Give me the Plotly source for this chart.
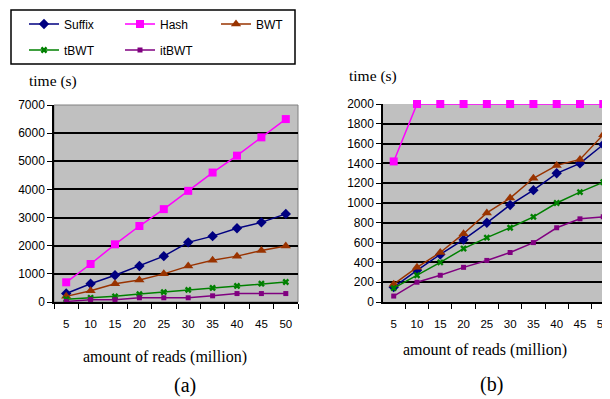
import plotly.graph_objects as go

categories = ["5", "10", "15", "20", "25", "30", "35", "40", "45", "50"]
series_names = ["Suffix", "Hash", "BWT", "tBWT", "itBWT"]

# (a)
a_suffix = [300, 650, 950, 1280, 1630, 2120, 2340, 2620, 2830, 3130]
a_hash = [700, 1350, 2050, 2700, 3300, 3950, 4600, 5200, 5850, 6500]
a_bwt = [200, 400, 650, 780, 1000, 1275, 1480, 1630, 1830, 1990]
a_tbwt = [100, 150, 200, 280, 350, 430, 500, 570, 650, 710]
a_itbwt = [20, 80, 80, 150, 150, 150, 220, 300, 300, 300]

# (b)
b_suffix = [150, 320, 480, 630, 800, 980, 1130, 1300, 1400, 1590]
b_hash = [1420, 2000, 2000, 2000, 2000, 2000, 2000, 2000, 2000, 2000]
b_bwt = [180, 350, 500, 690, 900, 1050, 1250, 1380, 1440, 1690]
b_tbwt = [140, 270, 400, 540, 650, 750, 860, 1000, 1110, 1210]
b_itbwt = [60, 200, 270, 350, 420, 500, 600, 750, 840, 860]

colors = ["#000080", "#FF00FF", "#993300", "#008000", "#800080"]
symbols = ["diamond", "square", "triangle-up", "x", "square"]
msizes = [8, 8, 9, 6, 5]
legend_ids = ["legend", "legend", "legend", "legend2", "legend2"]

fig = go.Figure()
for i, (name, ys) in enumerate(zip(series_names, [a_suffix, a_hash, a_bwt, a_tbwt, a_itbwt])):
    fig.add_trace(go.Scatter(x=categories, y=ys, name=name, mode="lines+markers",
                             line=dict(color=colors[i], width=1.5),
                             marker=dict(symbol=symbols[i], size=msizes[i], color=colors[i]),
                             xaxis="x", yaxis="y", cliponaxis=False, legend=legend_ids[i]))
for i, (name, ys) in enumerate(zip(series_names, [b_suffix, b_hash, b_bwt, b_tbwt, b_itbwt])):
    fig.add_trace(go.Scatter(x=categories, y=ys, name=name, mode="lines+markers",
                             line=dict(color=colors[i], width=1.5),
                             marker=dict(symbol=symbols[i], size=msizes[i], color=colors[i]),
                             xaxis="x2", yaxis="y2", showlegend=False, cliponaxis=False))

# page has an 8px body margin; figure is sized to fill the rest of the window
OFF = 8
W, H = 610 - OFF, 399 - OFF
def px_x(p):
    return (p - OFF) / W
def px_y(p):
    return (H - (p - OFF)) / H

sans = "Arial"
serif = "Liberation Serif"
common_x = dict(type="category", tickson="boundaries", ticks="outside", ticklen=5,
                tickcolor="black", showline=True, linecolor="black", linewidth=1.5,
                showgrid=False, tickfont=dict(family=sans, size=11.5, color="black"),
                zeroline=False, ticklabeloverflow="allow", ticklabelstandoff=10)
common_y = dict(ticks="outside", ticklen=5, tickcolor="black", showline=True,
                linecolor="black", linewidth=1.5, showgrid=True, gridcolor="black",
                gridwidth=1.5, tickfont=dict(family=sans, size=12, color="black"),
                zeroline=False)

legfont = dict(family=sans, size=12, color="black")
fig.update_layout(
    width=W, height=H,
    margin=dict(l=0, r=0, t=0, b=0, autoexpand=False),
    paper_bgcolor="white",
    plot_bgcolor="#C0C0C0",
    showlegend=True,
    legend=dict(orientation="h", x=px_x(24), y=px_y(24), xanchor="left", yanchor="middle",
                borderwidth=0, entrywidth=51, entrywidthmode="pixels",
                font=legfont, bgcolor="rgba(0,0,0,0)"),
    legend2=dict(orientation="h", x=px_x(24), y=px_y(50), xanchor="left", yanchor="middle",
                 borderwidth=0, entrywidth=51, entrywidthmode="pixels",
                 font=legfont, bgcolor="rgba(0,0,0,0)"),
    xaxis=dict(domain=[px_x(54), px_x(298)], anchor="y", range=[-0.5, 9.5], **common_x),
    yaxis=dict(domain=[px_y(302), px_y(105)], anchor="x", range=[0, 7000], dtick=1000,
               **common_y),
    xaxis2=dict(domain=[px_x(383), 1.0], anchor="y2", range=[-0.46, 9.29], **common_x),
    yaxis2=dict(domain=[px_y(302), px_y(104)], anchor="x2", range=[0, 2000], dtick=200,
                **common_y),
)

# legend frame
fig.add_shape(type="rect", xref="paper", yref="paper", x0=px_x(11), x1=px_x(295),
              y0=px_y(64), y1=px_y(10), line=dict(color="black", width=1.5))
# plot-area gray border for (a)
fig.add_shape(type="rect", xref="x domain", yref="y domain", x0=0, x1=1, y0=0, y1=1,
              line=dict(color="#808080", width=1), layer="below")

annots = [
    dict(text="time (s)", x=px_x(27), y=px_y(81), xanchor="left", yanchor="middle", size=15.5),
    dict(text="amount of reads (million)", x=px_x(165), y=px_y(357), xanchor="center", yanchor="middle", size=16),
    dict(text="(a)", x=px_x(185), y=px_y(385), xanchor="center", yanchor="middle", size=20),
    dict(text="time (s)", x=px_x(347), y=px_y(76), xanchor="left", yanchor="middle", size=15.5),
    dict(text="amount of reads (million)", x=px_x(485), y=px_y(350), xanchor="center", yanchor="middle", size=16),
    dict(text="(b)", x=px_x(491), y=px_y(384), xanchor="center", yanchor="middle", size=20),
]
for a in annots:
    fig.add_annotation(text=a["text"], x=a["x"], y=a["y"], xref="paper", yref="paper",
                       xanchor=a["xanchor"], yanchor=a["yanchor"], showarrow=False,
                       font=dict(family=serif, size=a["size"], color="black"))

fig.write_html("out.html")
